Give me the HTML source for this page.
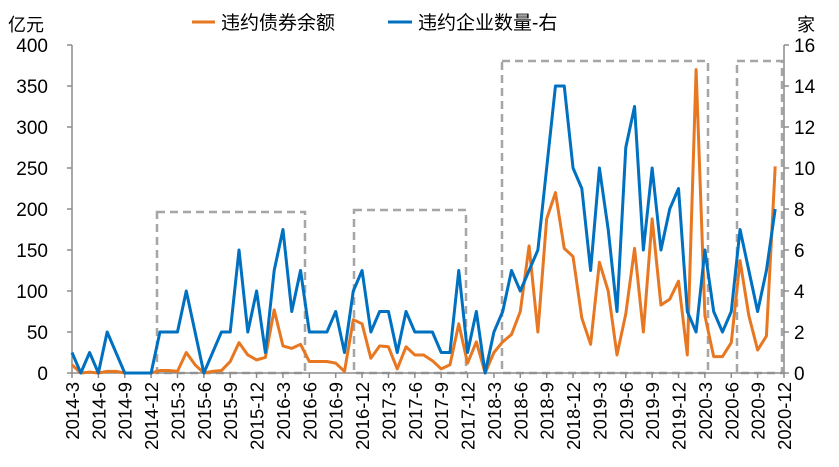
<!DOCTYPE html>
<html><head><meta charset="utf-8">
<style>
html,body{margin:0;padding:0;background:#fff;}
svg text{font-family:"Liberation Sans","Noto Sans CJK SC",sans-serif;fill:#000;}
</style></head>
<body>
<svg id="chart" width="839" height="462" viewBox="0 0 839 462" xmlns="http://www.w3.org/2000/svg">
<g>
  <line x1="192" y1="22" x2="215" y2="22" stroke="#E87722" stroke-width="3"/>
  <text x="221" y="29" font-size="19">违约债券余额</text>
  <line x1="388" y1="22" x2="412" y2="22" stroke="#0070C0" stroke-width="3"/>
  <text x="418" y="29" font-size="19">违约企业数量-右</text>
</g>
<text x="8" y="31" font-size="18">亿元</text>
<text x="797" y="31" font-size="18">家</text>
<g id="boxes" fill="none" stroke="#A6A6A6" stroke-width="2.5" stroke-dasharray="8,5">
  <rect x="157" y="212" width="148" height="161"/>
  <rect x="354" y="210" width="112" height="163"/>
  <rect x="502" y="61" width="206" height="312"/>
  <rect x="737" y="61" width="45" height="312"/>
</g>
<g id="axes"></g>
<g id="series"></g>
</svg>
<script>
const leftTicks = [0,50,100,150,200,250,300,350,400];
const rightTicks = [0,2,4,6,8,10,12,14,16];
const xTickLabels = ["2014-3","2014-6","2014-9","2014-12","2015-3","2015-6","2015-9","2015-12","2016-3","2016-6","2016-9","2016-12","2017-3","2017-6","2017-9","2017-12","2018-3","2018-6","2018-9","2018-12","2019-3","2019-6","2019-9","2019-12","2020-3","2020-6","2020-9","2020-12"];
const bondAmount = [10,0,1,0,2,2,0,0,0,0,3,3,2,25,10,0,2,3,14,37,22,16,19,77,33,30,35,14,14,14,12,2,65,60,18,33,32,5,32,22,22,15,5,10,60,12,38,0,25,38,47,75,155,50,188,220,152,142,67,35,135,100,22,72,152,50,188,83,90,112,22,370,70,20,20,37,137,70,28,45,252];
const firmCount = [1,0,1,0,2,1,0,0,0,0,2,2,2,4,2,0,1,2,2,6,2,4,1,5,7,3,5,2,2,2,3,1,4,5,2,3,3,1,3,2,2,2,1,1,5,1,3,0,2,3,5,4,5,6,10,14,14,10,9,5,10,7,3,11,13,6,10,6,8,9,3,2,6,3,2,3,7,5,3,5,8];

const NS="http://www.w3.org/2000/svg";
const x0=72, x1=784, yBase=373, yTop=45, nMonths=81;
const xScale=i=>x0+i*(x1-x0)/nMonths;
const yLeft=v=>yBase-(v/400)*(yBase-yTop);
const yRight=v=>yBase-(v/16)*(yBase-yTop);
function mk(tag,attrs,parent){const e=document.createElementNS(NS,tag);for(const k in attrs)e.setAttribute(k,attrs[k]);parent.appendChild(e);return e;}
const axes=document.getElementById('axes');
const series=document.getElementById('series');

const la=mk('line',{x1:x0,y1:yTop,x2:x0,y2:yBase,stroke:'#8c8c8c','stroke-width':1.5},axes);


const ra=mk('line',{x1:x1,y1:yTop,x2:x1,y2:yBase,stroke:'#8c8c8c','stroke-width':1.5},axes);


const xa=mk('line',{x1:x0,y1:yBase,x2:x1,y2:yBase,stroke:'#8c8c8c','stroke-width':1.5},axes);



leftTicks.forEach(v=>{
  const y=yLeft(v);
  mk('line',{x1:x0-5,y1:y,x2:x0,y2:y,stroke:'#8c8c8c','stroke-width':1.5},axes);
  const t=mk('text',{x:48,y:y+7,'text-anchor':'end','font-size':19},axes);
  t.textContent=v;
  
  
});
rightTicks.forEach(v=>{
  const y=yRight(v);
  mk('line',{x1:x1,y1:y,x2:x1+5,y2:y,stroke:'#8c8c8c','stroke-width':1.5},axes);
  const t=mk('text',{x:794,y:y+7,'text-anchor':'start','font-size':19},axes);
  t.textContent=v;
  
  
});
xTickLabels.forEach((lab,k)=>{
  const x=xScale(k*3);
  mk('line',{x1:x,y1:yBase,x2:x,y2:yBase+5,stroke:'#8c8c8c','stroke-width':1.5},axes);
  const t=mk('text',{x:0,y:0,'text-anchor':'end','font-size':18.5,transform:`translate(${x+7},${yBase+9}) rotate(-90)`},axes);
  t.textContent=lab;
  
  
});

const pb=mk('polyline',{points:bondAmount.map((v,i)=>xScale(i)+','+yLeft(v)).join(' '),fill:'none',stroke:'#E87722','stroke-width':3,'stroke-linejoin':'round'},series);


const pf=mk('polyline',{points:firmCount.map((v,i)=>xScale(i)+','+yRight(v)).join(' '),fill:'none',stroke:'#0070C0','stroke-width':3,'stroke-linejoin':'round'},series);


</script>
</body></html>
